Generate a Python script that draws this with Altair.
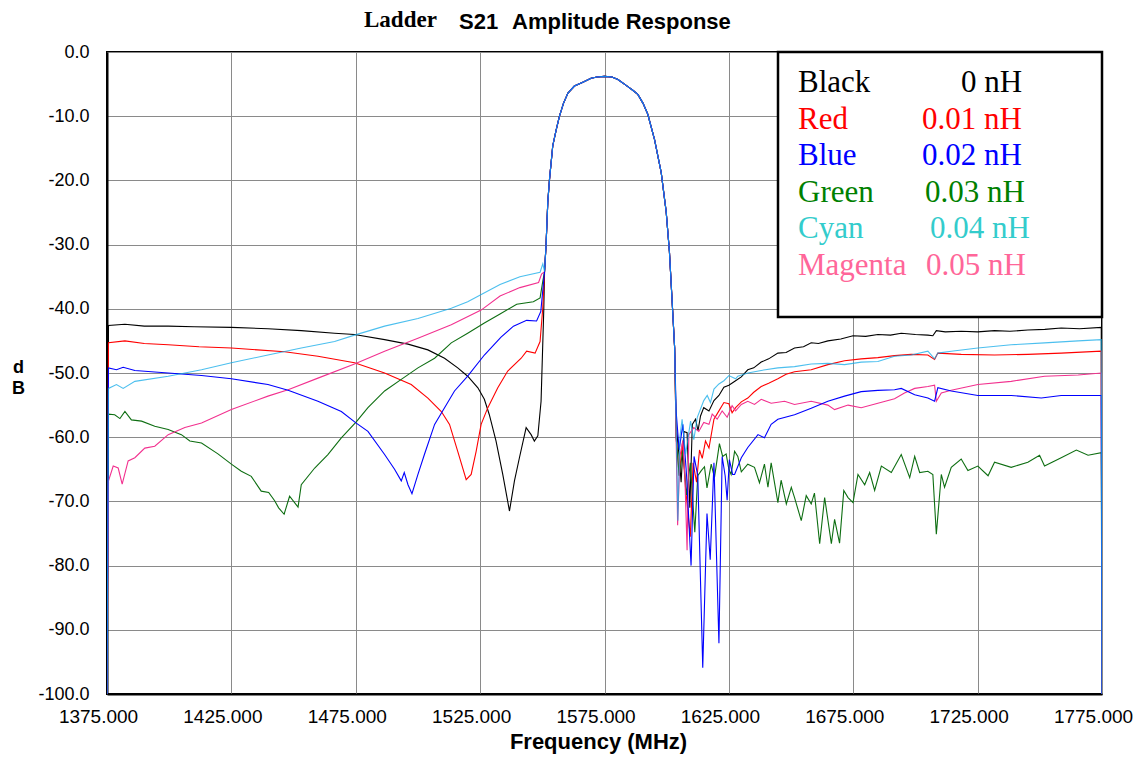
import altair as alt
import pandas as pd

# ---------------- data ----------------
# shared passband (all six curves coincide)
PASS_F = [1550.9, 1551.5, 1552.2, 1552.9, 1554.2, 1555.6, 1556.9, 1558.5, 1560.3, 1562.9,
          1566.3, 1569.6, 1572.0, 1575.0, 1578.0, 1580.4, 1584.4, 1586.5, 1588.4, 1590.5,
          1592.4, 1595.1, 1597.8, 1599.8, 1601.1, 1602.2, 1603.2]
PASS_DB = [-34.2, -30.1, -23.4, -19.8, -14.6, -12.1, -10.0, -8.0, -6.4, -5.3,
           -4.7, -4.1, -3.9, -3.8, -3.9, -4.3, -5.4, -6.0, -6.6, -8.0,
           -9.7, -13.6, -18.8, -24.9, -31.1, -38.9, -46.1]

# Black 0 nH
BLACK_LF = [1375.6, 1382.2, 1390.0, 1399.6, 1410.0, 1425.0, 1439.7, 1453.1, 1466.5, 1474.5,
            1486.6, 1496.0, 1504.0, 1510.7, 1516.0, 1520.0, 1524.1, 1526.7, 1528.7, 1531.4,
            1534.1, 1536.8, 1538.8, 1540.8, 1543.5, 1545.5, 1546.8, 1548.2, 1549.5, 1550.6]
BLACK_LD = [-42.6, -42.4, -42.7, -42.7, -42.8, -42.9, -43.1, -43.4, -43.8, -44.0,
            -44.8, -45.5, -46.4, -47.7, -49.2, -50.5, -52.3, -54.1, -56.5, -60.6,
            -65.8, -71.5, -66.8, -63.2, -58.5, -59.6, -60.6, -59.8, -54.4, -40.0]
BLACK_RF = [1603.8, 1605.0, 1605.8, 1606.9, 1608.2, 1609.3, 1610.3, 1611.6, 1612.6, 1613.6,
            1614.9, 1617.0, 1619.0, 1621.0, 1623.0, 1625.0, 1627.7, 1630.0, 1632.6, 1635.0,
            1638.0, 1641.0, 1644.7, 1648.0, 1651.4, 1655.0, 1658.1, 1661.0, 1664.8, 1670.0,
            1674.9, 1680.0, 1684.9, 1690.0, 1694.3, 1700.0, 1705.0, 1707.0, 1708.4, 1712.0,
            1718.4, 1725.0, 1731.8, 1738.0, 1745.2, 1752.0, 1758.6, 1766.0, 1774.7]
BLACK_RD = [-58.0, -63.0, -67.0, -59.1, -59.3, -71.0, -58.0, -57.2, -59.0, -56.7,
            -55.4, -55.9, -54.3, -53.5, -52.2, -51.9, -51.2, -50.6, -49.5, -49.2,
            -48.3, -47.8, -46.9, -46.8, -46.1, -45.9, -45.3, -45.4, -45.0, -44.7,
            -44.2, -44.3, -44.0, -44.1, -43.8, -44.0, -44.1, -44.2, -43.4, -43.6,
            -43.5, -43.6, -43.4, -43.5, -43.3, -43.2, -43.0, -43.1, -42.9]

# Red 0.01 nH
RED_LF = [1375.6, 1382.2, 1390.0, 1399.6, 1412.0, 1425.0, 1446.4, 1459.8, 1474.5, 1486.6,
          1497.3, 1504.0, 1509.4, 1512.7, 1516.0, 1519.4, 1521.4, 1523.4, 1525.4, 1528.1,
          1532.1, 1536.1, 1541.5, 1543.7, 1547.1, 1549.1, 1550.2]
RED_LD = [-45.3, -45.0, -45.4, -45.6, -45.9, -46.1, -46.7, -47.4, -48.4, -50.0,
          -51.8, -53.9, -56.0, -58.0, -62.2, -66.6, -65.8, -62.2, -58.0, -55.4,
          -52.3, -49.7, -47.7, -46.6, -46.9, -45.1, -39.8]
RED_RF = [1603.8, 1605.0, 1606.3, 1607.6, 1609.5, 1610.6, 1612.0, 1613.2, 1614.3, 1615.6,
          1617.0, 1619.0, 1621.0, 1623.0, 1625.0, 1626.3, 1627.7, 1630.0, 1632.6, 1635.0,
          1638.0, 1641.0, 1644.7, 1648.0, 1651.4, 1658.1, 1664.8, 1671.5, 1678.2, 1684.9,
          1691.6, 1698.3, 1705.0, 1707.7, 1709.0, 1718.4, 1731.8, 1745.2, 1758.6, 1774.7]
RED_RD = [-60.0, -66.0, -61.0, -68.0, -75.5, -64.0, -67.0, -62.0, -63.3, -60.6,
          -61.7, -57.2, -55.9, -54.6, -54.8, -56.2, -55.4, -54.5, -53.9, -53.0,
          -52.1, -51.6, -50.9, -50.2, -49.8, -49.5, -48.7, -48.1, -47.8, -47.6,
          -47.3, -47.1, -47.2, -47.9, -46.9, -47.1, -47.2, -47.1, -46.9, -46.6]

# Blue 0.02 nH
BLUE_LF = [1375.6, 1378.8, 1381.5, 1386.2, 1399.6, 1413.0, 1425.0, 1439.7, 1447.8, 1459.8,
           1469.2, 1475.2, 1479.9, 1486.6, 1490.6, 1493.3, 1494.5, 1496.0, 1497.6, 1500.0,
           1502.6, 1506.7, 1510.7, 1514.7, 1520.0, 1526.7, 1533.4, 1538.4, 1543.7, 1547.7,
           1549.4]
BLUE_LD = [-49.2, -49.5, -49.1, -49.6, -50.0, -50.4, -50.9, -51.8, -52.7, -54.4,
           -56.0, -57.8, -59.1, -62.7, -65.0, -66.8, -65.5, -67.4, -68.8, -65.8,
           -62.7, -58.0, -55.4, -52.8, -50.5, -47.2, -44.4, -42.7, -41.8, -41.9,
           -40.4]
BLUE_RF = [1603.8, 1605.0, 1606.5, 1608.0, 1609.8, 1611.0, 1612.5, 1614.5, 1616.2, 1617.5,
           1619.0, 1621.0, 1622.3, 1623.5, 1624.3, 1625.2, 1626.5, 1627.3, 1630.0, 1632.6,
           1636.7, 1639.3, 1642.0, 1644.7, 1651.4, 1658.1, 1664.8, 1671.5, 1678.2, 1684.9,
           1691.6, 1694.3, 1699.7, 1705.0, 1707.7, 1709.0, 1714.4, 1725.1, 1738.5, 1750.6,
           1758.6, 1774.7]
BLUE_RD = [-56.0, -62.0, -58.0, -66.0, -80.0, -63.0, -66.0, -95.9, -71.9, -79.1,
           -64.0, -92.1, -63.0, -66.0, -69.8, -63.5, -65.8, -65.8, -63.2, -61.6,
           -59.6, -60.1, -58.0, -57.2, -56.5, -55.5, -54.4, -53.6, -52.9, -52.7,
           -52.6, -52.4, -53.4, -53.9, -54.4, -52.3, -52.8, -53.5, -53.5, -53.9,
           -53.5, -53.5]

# Green 0.03 nH
GREEN_LF = [1375.6, 1378.1, 1380.2, 1382.2, 1384.8, 1388.9, 1394.2, 1399.6, 1404.9, 1408.3,
            1413.0, 1419.6, 1425.0, 1429.0, 1433.0, 1437.0, 1440.0, 1442.4, 1444.0, 1446.2,
            1448.4, 1451.8, 1453.1, 1458.5, 1463.8, 1469.2, 1475.2, 1479.9, 1486.6, 1493.3,
            1500.0, 1506.7, 1513.4, 1520.0, 1526.7, 1533.0, 1539.7, 1546.4, 1549.1, 1550.2]
GREEN_LD = [-56.4, -56.5, -57.1, -56.0, -57.3, -57.5, -58.3, -58.8, -59.6, -60.6,
            -60.9, -62.6, -64.2, -65.3, -66.1, -68.4, -68.6, -69.9, -71.0, -72.0,
            -69.2, -70.9, -67.4, -64.8, -62.7, -60.1, -57.6, -55.4, -52.8, -51.0,
            -49.2, -47.7, -45.3, -43.8, -42.2, -40.8, -39.3, -38.9, -38.3, -35.7]
GREEN_RF = [1603.8, 1605.0, 1606.5, 1608.0, 1609.5, 1611.3, 1612.5, 1613.9, 1615.2, 1616.2,
            1617.9, 1619.2, 1621.2, 1622.5, 1623.9, 1625.0, 1625.9, 1627.3, 1628.6, 1630.0,
            1632.6, 1635.3, 1637.3, 1639.3, 1640.7, 1642.0, 1644.7, 1646.0, 1648.1, 1650.1,
            1651.4, 1654.1, 1656.1, 1658.1, 1659.4, 1661.5, 1663.5, 1666.2, 1667.5, 1669.5,
            1671.2, 1672.9, 1674.9, 1676.9, 1679.6, 1681.6, 1683.6, 1686.3, 1690.3, 1694.3,
            1697.7, 1699.7, 1701.7, 1705.0, 1707.0, 1708.4, 1710.4, 1711.7, 1714.4, 1718.4,
            1721.1, 1725.1, 1729.2, 1731.8, 1738.5, 1745.2, 1749.9, 1751.9, 1758.6, 1764.7,
            1769.4, 1774.7]
GREEN_RD = [-60.0, -66.0, -62.0, -69.0, -64.0, -74.8, -66.0, -65.2, -64.6, -67.9,
            -64.2, -66.3, -61.0, -63.0, -62.6, -65.0, -65.8, -62.2, -63.0, -65.4,
            -64.2, -64.7, -67.1, -64.2, -67.8, -64.0, -70.2, -66.7, -70.4, -67.8,
            -69.4, -73.0, -69.1, -70.4, -68.7, -76.6, -69.4, -76.6, -72.8, -76.5,
            -68.3, -69.4, -70.2, -65.8, -67.4, -65.5, -68.3, -64.5, -65.5, -62.7,
            -66.3, -63.0, -65.5, -65.3, -65.8, -75.1, -65.8, -67.8, -64.7, -63.4,
            -65.2, -64.5, -66.0, -63.9, -64.7, -63.9, -62.8, -64.5, -63.2, -62.0,
            -62.8, -62.4]

# Cyan 0.04 nH
CYAN_LF = [1375.6, 1378.8, 1381.5, 1386.2, 1399.6, 1413.0, 1425.0, 1439.7, 1453.1, 1466.5,
           1474.5, 1486.6, 1500.0, 1513.4, 1520.0, 1533.0, 1541.0, 1549.1, 1550.2]
CYAN_LD = [-52.4, -51.8, -52.4, -51.3, -50.5, -49.5, -48.4, -47.2, -46.1, -45.1,
           -44.1, -42.7, -41.5, -39.9, -38.9, -36.2, -35.0, -34.3, -33.0]
CYAN_RF = [1603.8, 1604.5, 1605.3, 1606.2, 1607.6, 1609.6, 1610.9, 1612.3, 1613.6, 1614.9,
           1616.3, 1617.6, 1619.0, 1621.0, 1623.0, 1625.0, 1627.7, 1628.6, 1632.6, 1638.0,
           1644.7, 1651.4, 1658.1, 1664.8, 1671.5, 1678.2, 1684.9, 1691.6, 1698.3, 1705.0,
           1707.7, 1709.0, 1714.4, 1725.1, 1738.5, 1751.9, 1765.4, 1774.7]
CYAN_RD = [-58.0, -73.0, -60.0, -57.2, -62.7, -57.5, -60.4, -56.9, -55.6, -54.3,
           -53.5, -54.6, -52.5, -51.7, -51.2, -50.4, -50.9, -50.5, -50.0, -49.6,
           -49.2, -49.0, -48.6, -48.5, -48.7, -48.3, -48.2, -47.4, -47.2, -46.6,
           -47.8, -46.9, -46.6, -46.1, -45.6, -45.3, -45.0, -44.8]

# Magenta 0.05 nH
MAG_LF = [1375.6, 1377.5, 1379.5, 1381.1, 1383.5, 1386.2, 1390.2, 1394.2, 1399.6, 1406.3,
          1413.0, 1425.0, 1439.7, 1447.8, 1459.8, 1474.5, 1486.6, 1500.0, 1513.4, 1525.4,
          1533.0, 1541.0, 1548.5, 1549.7]
MAG_LD = [-66.8, -64.5, -64.8, -67.3, -63.7, -63.2, -61.7, -61.4, -59.6, -58.5,
          -57.8, -55.7, -53.6, -52.6, -50.8, -48.6, -46.6, -44.6, -42.5, -40.2,
          -38.0, -36.7, -35.9, -34.6]
MAG_RF = [1603.8, 1604.4, 1605.3, 1606.5, 1607.3, 1608.2, 1608.9, 1610.9, 1612.9, 1614.9,
          1617.0, 1618.3, 1620.3, 1622.3, 1624.3, 1626.3, 1627.7, 1630.0, 1632.6, 1635.3,
          1638.0, 1642.0, 1647.4, 1651.4, 1658.1, 1664.8, 1667.5, 1672.9, 1678.2, 1684.9,
          1691.6, 1695.6, 1699.7, 1705.0, 1707.7, 1708.4, 1710.4, 1714.4, 1725.1, 1738.5,
          1751.9, 1765.4, 1774.7]
MAG_RD = [-60.0, -73.7, -63.0, -60.5, -66.0, -77.6, -59.6, -58.5, -59.1, -57.7,
          -58.0, -56.4, -57.2, -55.9, -56.9, -55.1, -55.9, -54.9, -54.4, -54.9,
          -54.1, -54.7, -54.4, -54.9, -54.4, -55.0, -55.7, -55.0, -55.4, -54.7,
          -54.0, -53.1, -52.4, -52.1, -51.9, -54.4, -53.1, -52.7, -51.8, -51.3,
          -50.5, -50.3, -50.0]

F_START, F_END, FLOOR_DB = 1375.0, 1775.0, -100.0

SERIES = ["Black", "Red", "Green", "Magenta", "Blue", "Cyan"]  # drawing order
SERIES_DATA = {
    "Black": (BLACK_LF, BLACK_LD, BLACK_RF, BLACK_RD),
    "Red": (RED_LF, RED_LD, RED_RF, RED_RD),
    "Blue": (BLUE_LF, BLUE_LD, BLUE_RF, BLUE_RD),
    "Green": (GREEN_LF, GREEN_LD, GREEN_RF, GREEN_RD),
    "Cyan": (CYAN_LF, CYAN_LD, CYAN_RF, CYAN_RD),
    "Magenta": (MAG_LF, MAG_LD, MAG_RF, MAG_RD),
}
LINE_COLORS = {"Black": "#000000", "Red": "#FF0000", "Blue": "#0000FF",
               "Green": "#0E6E12", "Cyan": "#10AAE8", "Magenta": "#F2318F"}
LINE_OPACITY = {"Black": 1, "Red": 1, "Blue": 1, "Green": 1, "Cyan": 0.75, "Magenta": 1}

LEGEND_NAMES = ["Black", "Red", "Blue", "Green", "Cyan", "Magenta"]
LEGEND_VALUES = ["0 nH", "0.01 nH", "0.02 nH", "0.03 nH", "0.04 nH", "0.05 nH"]
LEGEND_COLORS = ["#000000", "#FF0000", "#0000FF", "#008000", "#33CCCC", "#FF6699"]

X_TICKS = [1375, 1425, 1475, 1525, 1575, 1625, 1675, 1725, 1775]
Y_TICKS = [0, -10, -20, -30, -40, -50, -60, -70, -80, -90, -100]

# ---------------- build table ----------------
rows = []
for name in SERIES:
    lf, ld, rf, rd = SERIES_DATA[name]
    fs = [F_START] + lf + PASS_F + rf + [F_END]
    ds = [FLOOR_DB] + ld + PASS_DB + rd + [FLOOR_DB]
    for i, (f, d) in enumerate(zip(fs, ds)):
        rows.append({"series": name, "f": f, "db": d, "i": i})
df = pd.DataFrame(rows)

W, H = 995, 642
SANS = "Liberation Sans"
SERIF = "Liberation Serif"

x_enc = alt.X("f:Q", scale=alt.Scale(domain=[1375, 1775], nice=False, zero=False),
              axis=alt.Axis(values=X_TICKS, labelExpr="format(datum.value, '.3f')",
                            labelOverlap=False, labelBound=False, labelFlush=False,
                            labelOffset=-9,
                            title="Frequency (MHz)", grid=True, ticks=False,
                            labelFont=SANS, labelFontSize=19, labelPadding=13,
                            labelColor="black", titleFont=SANS, titleFontSize=22,
                            titleFontWeight="bold", titleColor="black",
                            titleX=491, titleY=54, titleBaseline="alphabetic",
                            domainColor="black", domainWidth=2))
y_enc = alt.Y("db:Q", scale=alt.Scale(domain=[-100, 0], nice=False, zero=False),
              axis=alt.Axis(values=Y_TICKS,
                            labelExpr="datum.value < 0 ? '-' + format(-datum.value, '.1f') : format(datum.value, '.1f')",
                            labelOverlap=False,
                            title=["d", "B"], titleAngle=0, grid=True, ticks=False,
                            labelFont=SANS, labelFontSize=18, labelPadding=18,
                            labelColor="black", titleFont=SANS, titleFontSize=18,
                            titleFontWeight="bold", titleColor="black",
                            titleX=-89, titleY=320, titleAlign="center",
                            titleBaseline="alphabetic", titleLineHeight=21,
                            domainColor="black", domainWidth=2))

layers = []
for name in SERIES:
    layers.append(
        alt.Chart(df[df.series == name]).mark_line(
            color=LINE_COLORS[name], strokeWidth=1.1, clip=True,
            opacity=LINE_OPACITY[name]
        ).encode(x=x_enc, y=y_enc, order="i:Q")
    )

one = alt.Data(values=[{"a": 1}])
box = alt.Chart(one).mark_rect(fill="white", stroke="black", strokeWidth=2.5).encode(
    x=alt.value(671), x2=alt.value(995), y=alt.value(0), y2=alt.value(265))
layers.append(box)

row_y = [40, 76.5, 113, 149.5, 186, 222.5]
val_x = [854, 815, 815, 818, 823, 819]
for k in range(6):
    layers.append(alt.Chart(one).mark_text(
        text=LEGEND_NAMES[k], font=SERIF, fontSize=31, align="left",
        baseline="alphabetic", color=LEGEND_COLORS[k]
    ).encode(x=alt.value(691), y=alt.value(row_y[k])))
    layers.append(alt.Chart(one).mark_text(
        text=LEGEND_VALUES[k], font=SERIF, fontSize=31, align="left",
        baseline="alphabetic", color=LEGEND_COLORS[k]
    ).encode(x=alt.value(val_x[k]), y=alt.value(row_y[k])))

layers.append(alt.Chart(one).mark_text(
    text="Ladder", font=SERIF, fontSize=23, fontWeight="bold", align="left",
    baseline="alphabetic", color="black").encode(x=alt.value(257), y=alt.value(-25)))
layers.append(alt.Chart(one).mark_text(
    text="S21", font=SANS, fontSize=22, fontWeight="bold",
    align="left", baseline="alphabetic", color="black"
).encode(x=alt.value(352), y=alt.value(-23)))
layers.append(alt.Chart(one).mark_text(
    text="Amplitude Response", font=SANS, fontSize=22, fontWeight="bold",
    align="left", baseline="alphabetic", color="black"
).encode(x=alt.value(405), y=alt.value(-23)))

chart = alt.layer(*layers).properties(
    width=W, height=H,
    autosize=alt.AutoSizeParams(type="none"),
    padding={"left": 99, "top": 44, "right": 31, "bottom": 62},
    background="white",
).configure_view(stroke="black", strokeWidth=2).configure_axis(
    gridColor="#8a8a8a", gridWidth=1, gridOpacity=1
)

chart.save("out.html", embed_options={"renderer": "svg", "actions": False})
